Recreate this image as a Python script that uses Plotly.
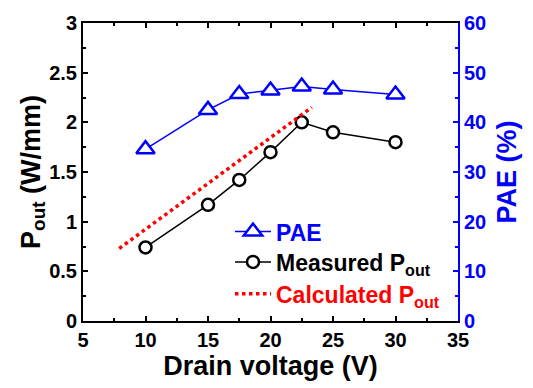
import plotly.graph_objects as go

# Drain-voltage sweep
drain_v = [10, 15, 17.5, 20, 22.5, 25, 30]
pout_measured = [0.74, 1.17, 1.42, 1.70, 2.00, 1.90, 1.80]
pae = [34.6, 42.5, 45.7, 46.4, 47.2, 46.6, 45.6]

# Calculated output power (straight-line estimate)
calc_v = [7.9, 23.3]
calc_pout = [0.73, 2.15]

FONT = "Arial, 'Liberation Sans', sans-serif"
BLUE = "#0000ff"

fig = go.Figure()

# white-filled markers so the connecting lines stop at the symbol edge
fig.add_trace(go.Scatter(
    x=drain_v, y=pae, yaxis="y2", mode="lines+markers",
    name="<span style='color:#0000ff'>PAE</span>",
    line=dict(color=BLUE, width=1.5),
    marker=dict(symbol="triangle-up", size=16, color="white",
                line=dict(color=BLUE, width=2.5)),
    legend="legend",
))
fig.add_trace(go.Scatter(
    x=drain_v, y=pout_measured, mode="lines+markers",
    name="Measured P<sub>out</sub>",
    line=dict(color="black", width=1.5),
    marker=dict(symbol="circle", size=12, color="white",
                line=dict(color="black", width=2.5)),
    legend="legend2",
))
fig.add_trace(go.Scatter(
    x=calc_v, y=calc_pout, mode="lines",
    name="<span style='color:#ff0000'>Calculated P<sub>out</sub></span>",
    line=dict(color="#ff0000", width=3.5, dash="dot"),
    legend="legend3",
))

tickfont = dict(family=FONT, size=20, color="black", weight="bold")


def legend_row(yc):
    # one legend box per row so the row spacing can be set directly
    return dict(
        x=0.392, y=yc, xanchor="left", yanchor="middle",
        bgcolor="rgba(0,0,0,0)",
        font=dict(family=FONT, size=23, color="black", weight="bold"),
        itemwidth=36,
    )


fig.update_layout(
    width=533, height=388,
    margin=dict(l=83, r=75, t=15, b=66),
    paper_bgcolor="white", plot_bgcolor="white",
    font=dict(family=FONT, weight="bold"),
    showlegend=True,
    legend=legend_row(0.300),
    legend2=legend_row(0.198),
    legend3=legend_row(0.091),
    xaxis=dict(
        range=[5, 35], dtick=5, tick0=5,
        showgrid=False, zeroline=False,
        showline=True, linecolor="black", linewidth=2, mirror="ticks",
        ticks="inside", ticklen=5, tickwidth=1.5, tickcolor="black",
        minor=dict(dtick=2.5, ticks="inside", ticklen=3, tickwidth=1.5, tickcolor="black"),
        tickfont=tickfont,
        title=dict(text="Drain voltage (V)", standoff=6,
                   font=dict(family=FONT, size=27, color="black", weight="bold")),
    ),
    yaxis=dict(
        range=[0, 3], dtick=0.5,
        showgrid=False, zeroline=False,
        showline=True, linecolor="black", linewidth=2,
        ticks="inside", ticklen=5, tickwidth=1.5, tickcolor="black",
        minor=dict(dtick=0.25, ticks="inside", ticklen=3, tickwidth=1.5, tickcolor="black"),
        tickfont=tickfont,
        title=dict(text="P<sub>out</sub> (W/mm)", standoff=1,
                   font=dict(family=FONT, size=27, color="black", weight="bold")),
    ),
    yaxis2=dict(
        overlaying="y", side="right",
        range=[0, 60], dtick=10,
        showgrid=False, zeroline=False,
        showline=True, linecolor=BLUE, linewidth=2,
        ticks="inside", ticklen=5, tickwidth=1.5, tickcolor=BLUE,
        minor=dict(dtick=5, ticks="inside", ticklen=3, tickwidth=1.5, tickcolor=BLUE),
        tickfont=dict(family=FONT, size=20, color=BLUE, weight="bold"),
        title=dict(text="PAE (%)", standoff=12,
                   font=dict(family=FONT, size=27, color=BLUE, weight="bold")),
    ),
)

fig.write_html("out.html")
